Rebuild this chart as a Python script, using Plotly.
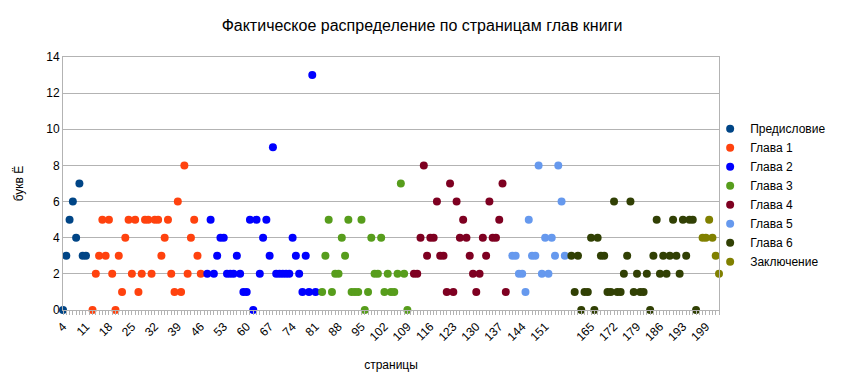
import plotly.graph_objects as go

# ---- data (page number, count of letter Ё) ----
pref_pages = [4, 5, 6, 7, 8, 9, 10, 11]
pref_vals = [0, 3, 5, 6, 4, 7, 3, 3]

ch1_pages = list(range(13, 47))
ch1_vals = [0, 2, 3, 5, 3, 5, 2, 0, 3, 1, 4, 5, 2, 5, 1, 2, 5, 5, 2, 5,
            5, 3, 4, 5, 2, 1, 6, 1, 8, 2, 4, 5, 3, 2]

ch2_pages = list(range(48, 82))
ch2_vals = [2, 5, 2, 3, 4, 4, 2, 2, 2, 3, 2, 1, 1, 5, 0, 5, 2, 4, 5, 3,
            9, 2, 2, 2, 2, 2, 4, 3, 2, 1, 3, 1, 13, 1]

ch3_pages = list(range(83, 110))
ch3_vals = [1, 3, 5, 1, 2, 2, 4, 3, 5, 1, 1, 1, 5, 0, 1, 4, 2, 2, 4, 1,
            2, 1, 1, 2, 7, 2, 0]

ch4_pages = list(range(111, 140))
ch4_vals = [2, 2, 4, 8, 3, 4, 4, 6, 3, 3, 1, 7, 1, 6, 4, 5, 4, 3, 2, 1,
            2, 4, 3, 6, 4, 4, 5, 7, 1]

ch5_pages = list(range(141, 158))
ch5_vals = [3, 3, 2, 2, 1, 5, 3, 3, 8, 2, 4, 2, 4, 3, 8, 6, 3]

ch6_pages = list(range(159, 198))
ch6_vals = [3, 1, 3, 0, 1, 1, 4, 0, 4, 3, 3, 1, 1, 6, 1, 1, 2, 3, 6, 1,
            2, 1, 1, 2, 0, 3, 5, 2, 3, 2, 3, 5, 3, 2, 5, 3, 5, 5, 0]

concl_pages = [199, 200, 201, 202, 203, 204]
concl_vals = [4, 4, 5, 4, 3, 2]

series_names = ["Предисловие", "Глава 1", "Глава 2", "Глава 3",
                "Глава 4", "Глава 5", "Глава 6", "Заключение"]
series_pages = [pref_pages, ch1_pages, ch2_pages, ch3_pages,
                ch4_pages, ch5_pages, ch6_pages, concl_pages]
series_vals = [pref_vals, ch1_vals, ch2_vals, ch3_vals,
               ch4_vals, ch5_vals, ch6_vals, concl_vals]
series_colors = ["#004586", "#ff420e", "#0000ff", "#579d1c",
                 "#7e0021", "#6699ee", "#314004", "#808000"]

tick_vals = [4, 11, 18, 25, 32, 39, 46, 53, 60, 67, 74, 81, 88, 95, 102,
             109, 116, 123, 130, 137, 144, 151, 165, 172, 179, 186, 193, 200]
tick_text = ["4", "11", "18", "25", "32", "39", "46", "53", "60", "67", "74",
             "81", "88", "95", "102", "109", "116", "123", "130", "137", "144",
             "151", "165", "172", "179", "186", "193", "199"]

FONT = "Liberation Sans, Arial, sans-serif"
GRID = "#b3b3b3"

fig = go.Figure()
for name, xs, ys, col in zip(series_names, series_pages, series_vals, series_colors):
    fig.add_trace(go.Scatter(
        x=xs, y=ys, mode="markers", name=name,
        marker=dict(color=col, size=8, line=dict(width=0)),
        cliponaxis=False,
    ))

fig.update_layout(
    width=844, height=391,
    margin=dict(l=63, r=125, t=57, b=81),
    paper_bgcolor="white", plot_bgcolor="white",
    font=dict(family=FONT, size=12, color="#000000"),
    title=dict(text="Фактическое распределение по страницам глав книги",
               x=0.5, xanchor="center", y=1 - 25 / 391, yanchor="middle",
               font=dict(size=16, family=FONT, color="#000000")),
    showlegend=True,
    legend=dict(x=0.9865, xanchor="left", y=0.454, yanchor="middle",
                font=dict(size=12, family=FONT), itemwidth=30,
                bgcolor="rgba(0,0,0,0)", tracegroupgap=0),
)

fig.update_xaxes(
    range=[4, 204], showgrid=False, zeroline=False,
    showline=True, linecolor=GRID, linewidth=1, mirror=True,
    tickmode="array", tickvals=tick_vals, ticktext=tick_text,
    tickangle=-45, ticks="outside", ticklen=4, tickcolor=GRID,
    tickfont=dict(size=12, family=FONT),
    minor=dict(tickmode="linear", tick0=4, dtick=1, ticks="outside",
               ticklen=4, tickcolor=GRID, showgrid=False),
    title=dict(text="страницы", font=dict(size=12, family=FONT), standoff=17),
)
fig.update_yaxes(
    range=[0, 14], dtick=2, showgrid=True, gridcolor=GRID, gridwidth=1,
    zeroline=False, showline=True, linecolor=GRID, linewidth=1, mirror=True,
    ticks="", tickfont=dict(size=12, family=FONT),
    title=dict(text="букв Ё", font=dict(size=12, family=FONT), standoff=20),
)

fig.write_html("out.html",
               config={"displayModeBar": False},
               post_script="document.body.style.margin='0';")
